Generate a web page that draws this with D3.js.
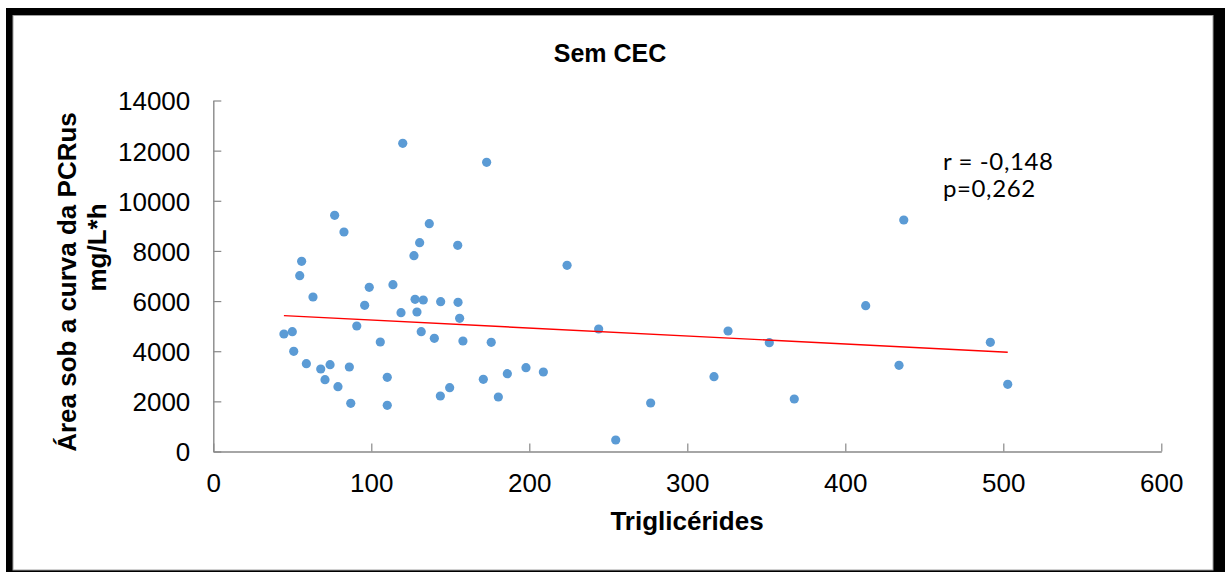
<!DOCTYPE html>
<html>
<head>
<meta charset="utf-8">
<script src="https://cdn.jsdelivr.net/npm/d3@7"></script>
<style>
  html, body { margin: 0; padding: 0; background: #fff; }
  svg { display: block; }
</style>
</head>
<body>
<svg id="chart" width="1225" height="572"></svg>
<script>
// Triglicérides (x) vs área sob a curva da PCRus (y), grupo sem CEC
const trigliceridesValues = [
  119.9, 173.0, 76.8, 82.7, 136.7, 130.6, 127.0, 154.7, 55.9, 54.7,
  63.1, 98.7, 113.7, 95.8, 127.7, 132.9, 143.9, 154.9, 118.8, 128.9,
  155.9, 44.7, 50.0, 90.8, 105.7, 131.6, 139.9, 158.0, 175.9, 50.9,
  58.9, 68.0, 73.9, 86.1, 70.7, 78.9, 110.1, 170.9, 149.6, 143.7,
  87.0, 110.1, 180.4, 186.1, 197.9, 208.9, 223.9, 243.9, 325.8, 351.9,
  316.9, 276.8, 254.7, 367.7, 412.9, 437.0, 434.0, 491.8, 502.8
];
const aucValues = [
  12290, 11535, 9421, 8755, 9086, 8328, 7810, 8225, 7586, 7012,
  6162, 6549, 6653, 5831, 6071, 6043, 5975, 5951, 5536, 5564,
  5313, 4687, 4778, 5006, 4368, 4778, 4515, 4407, 4356, 3997,
  3502, 3291, 3462, 3370, 2864, 2585, 2960, 2880, 2545, 2214,
  1923, 1843, 2174, 3103, 3343, 3171, 7427, 4886, 4806, 4340,
  2984, 1934, 459, 2094, 5815, 9234, 3438, 4356, 2680
];
const xTicks = [0, 100, 200, 300, 400, 500, 600];
const yTicks = [0, 2000, 4000, 6000, 8000, 10000, 12000, 14000];
const chartTitle = "Sem CEC";
const xTitle = "Triglicérides";
const yTitleLines = ["Área sob a curva da PCRus", "mg/L*h"];
const statLines = ["r = -0,148", "p=0,262"];

const points = trigliceridesValues.map((x, i) => ({ x, y: aucValues[i] }));

const svg = d3.select("#chart");
const W = 1225, H = 572;

// Outer black frame with a white panel inside
svg.append("rect").attr("x", 6).attr("y", 8).attr("width", W - 6).attr("height", H - 8)
  .attr("fill", "#000");
svg.append("rect").attr("x", 13).attr("y", 15.5).attr("width", 1200).attr("height", 554.5)
  .attr("fill", "#fff").attr("stroke", "#a0a0a0").attr("stroke-width", 1);

const x = d3.scaleLinear().domain([0, 600]).range([213.3, 1161.3]);
const y = d3.scaleLinear().domain([0, 14000]).range([451.5, 100.5]);

const axisColor = "#898989";
const tickFont = "'Liberation Sans', Arial, sans-serif";

// Y axis, ticks pointing inward
const gy = svg.append("g").attr("transform", `translate(${x(0)},0)`)
  .call(d3.axisLeft(y).tickValues(yTicks).tickFormat(d3.format("d"))
    .tickSizeInner(-8).tickSizeOuter(0).tickPadding(23));
gy.select(".domain").attr("stroke", axisColor).attr("stroke-width", 1.4);
gy.selectAll(".tick line").attr("stroke", axisColor).attr("stroke-width", 1.2);
gy.selectAll(".tick text").attr("font-family", tickFont).attr("font-size", 26)
  .attr("fill", "#000").attr("dy", "0.36em");

// X axis, ticks pointing inward
const gx = svg.append("g").attr("transform", `translate(0,${y(0)})`)
  .call(d3.axisBottom(x).tickValues(xTicks).tickFormat(d3.format("d"))
    .tickSizeInner(-8).tickSizeOuter(0).tickPadding(22));
gx.select(".domain").attr("stroke", axisColor).attr("stroke-width", 1.4);
gx.selectAll(".tick line").attr("stroke", axisColor).attr("stroke-width", 1.2);
gx.selectAll(".tick text").attr("font-family", tickFont).attr("font-size", 26)
  .attr("fill", "#000");

// Points
svg.append("g").selectAll("circle").data(points).join("circle")
  .attr("cx", d => x(d.x)).attr("cy", d => y(d.y)).attr("r", 4.6)
  .attr("fill", "#5b9bd5");

// Linear trendline (least squares) across the observed range
const mx = d3.mean(points, d => d.x), my = d3.mean(points, d => d.y);
const sxy = d3.sum(points, d => (d.x - mx) * (d.y - my));
const sxx = d3.sum(points, d => (d.x - mx) ** 2);
const slope = sxy / sxx, intercept = my - slope * mx;
const [xmin, xmax] = d3.extent(points, d => d.x);
svg.append("line")
  .attr("x1", x(xmin)).attr("y1", y(intercept + slope * xmin))
  .attr("x2", x(xmax)).attr("y2", y(intercept + slope * xmax))
  .attr("stroke", "#ff0000").attr("stroke-width", 1.4);

// Titles
svg.append("text").attr("x", 610).attr("y", 62).attr("text-anchor", "middle")
  .attr("font-family", tickFont).attr("font-weight", "bold").attr("font-size", 25)
  .text(chartTitle);

svg.append("text").attr("x", 687).attr("y", 530).attr("text-anchor", "middle")
  .attr("font-family", tickFont).attr("font-weight", "bold").attr("font-size", 26)
  .text(xTitle);

const yTitleCenters = [[76, 282], [106, 247.5]];
yTitleLines.forEach((line, i) => {
  const [tx, ty] = yTitleCenters[i];
  svg.append("text").attr("transform", `translate(${tx},${ty}) rotate(-90)`)
    .attr("text-anchor", "middle")
    .attr("font-family", tickFont).attr("font-weight", "bold").attr("font-size", 26)
    .text(line);
});

// Correlation annotation
statLines.forEach((line, i) => {
  svg.append("text").attr("x", 943).attr("y", 170 + i * 27)
    .attr("font-family", "Lato, 'Open Sans', sans-serif").attr("font-size", 24)
    .attr("letter-spacing", "0.6px").attr("fill", "#000")
    .text(line);
});
</script>
</body>
</html>
